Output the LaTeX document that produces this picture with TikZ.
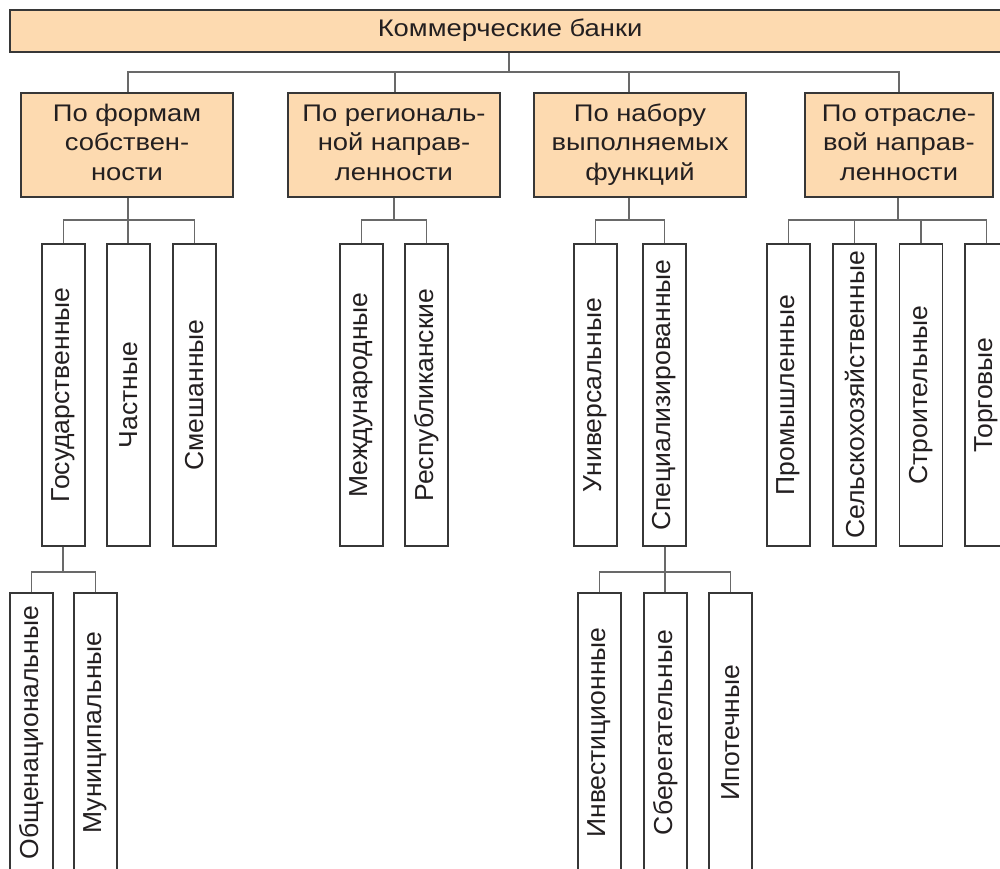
\documentclass[tikz,border=0pt]{standalone}
\usepackage{fontspec}
\setmainfont{Liberation Sans}
\definecolor{peach}{RGB}{253,218,176}
\definecolor{boxline}{RGB}{55,55,55}
\definecolor{connc}{RGB}{105,105,105}
\definecolor{txt}{RGB}{35,31,32}
\tikzset{
  topbox/.style={draw=boxline, fill=peach, line width=1.3pt, minimum width=1000pt, minimum height=42pt, inner sep=0pt, font=\fontsize{24}{29}\selectfont, text=txt},
  catbox/.style={draw=boxline, fill=peach, line width=1.3pt, minimum width=212pt, minimum height=104pt, inner sep=0pt, font=\fontsize{24}{29.5}\selectfont, text=txt},
  leafbox/.style={draw=boxline, fill=white, line width=1.3pt, minimum width=43pt, minimum height=302pt, inner sep=0pt, font=\fontsize{26}{30}\selectfont, text=txt},
  subbox/.style={leafbox, minimum height=279pt},
  conn/.style={draw=connc, line width=1.3pt}
}
\newcommand{\vtxt}[1]{\rotatebox{90}{\scalebox{1.02}[1]{#1}}}
\newcommand{\wtxt}[1]{\scalebox{1.14}[1]{\begin{tabular}{@{}c@{}}#1\end{tabular}}}
\begin{document}
\begin{tikzpicture}[x=1pt,y=-1pt]
\useasboundingbox (0,0) rectangle (1000,868);
\clip (0,0) rectangle (1000,868);
% top
\node[topbox] (top) at (510,31) {\wtxt{Коммерческие банки}};
% categories
\node[catbox] (c1) at (127,145) {\wtxt{По формам\\собствен-\\ности}};
\node[catbox] (c2) at (394,145) {\wtxt{По региональ-\\ной направ-\\ленности}};
\node[catbox] (c3) at (640,145) {\wtxt{По набору\\выполняемых\\функций}};
\node[catbox, minimum width=188pt] (c4) at (899,145) {\wtxt{По отрасле-\\вой направ-\\ленности}};
% leaves
\node[leafbox] (l11) at (63.5,395) {\vtxt{Государственные}};
\node[leafbox] (l12) at (128.5,395) {\vtxt{Частные}};
\node[leafbox] (l13) at (194.5,395) {\vtxt{Смешанные}};
\node[leafbox] (l21) at (361.5,395) {\vtxt{Международные}};
\node[leafbox] (l22) at (426.5,395) {\vtxt{Республиканские}};
\node[leafbox] (l31) at (595.5,395) {\vtxt{Универсальные}};
\node[leafbox] (l32) at (664.5,395) {\vtxt{Специализированные}};
\node[leafbox] (l41) at (788.5,395) {\vtxt{Промышленные}};
\node[leafbox] (l42) at (854.5,395) {\vtxt{Сельскохозяйственные}};
\node[leafbox] (l43) at (921,395) {\vtxt{Строительные}};
\node[leafbox] (l44) at (986.5,395) {\vtxt{Торговые}};
% sub leaves
\node[subbox] (s11) at (31.5,732.5) {\vtxt{Общенациональные}};
\node[subbox] (s12) at (95.5,732.5) {\vtxt{Муниципальные}};
\node[subbox] (s31) at (599.5,732.5) {\vtxt{Инвестиционные}};
\node[subbox] (s32) at (665.5,732.5) {\vtxt{Сберегательные}};
\node[subbox] (s33) at (730.5,732.5) {\vtxt{Ипотечные}};
% junctions
\coordinate (j0) at (509,72);
\coordinate (d1) at (128,72);
\coordinate (d2) at (395,72);
\coordinate (d3) at (629,72);
\coordinate (d4) at (899,72);
\coordinate (g1) at (128,220);
\coordinate (g2) at (394,220);
\coordinate (g3) at (629,220);
\coordinate (g4) at (898,220);
\coordinate (h1) at (63,572);
\coordinate (h3) at (665,572);
% connectors level 1
\draw[conn] (top.south -| j0) -- (j0);
\draw[conn] (c1.north -| d1) -- (d1) -- (d4) -- (c4.north -| d4);
\draw[conn] (c2.north -| d2) -- (d2);
\draw[conn] (c3.north -| d3) -- (d3);
% group 1
\draw[conn] (c1.south -| g1) -- (l12.north -| g1);
\draw[conn] (l11.north) |- (g1);
\draw[conn] (l13.north) |- (g1);
% group 2
\draw[conn] (c2.south -| g2) -- (g2);
\draw[conn] (l21.north) |- (g2);
\draw[conn] (l22.north) |- (g2);
% group 3
\draw[conn] (c3.south -| g3) -- (g3);
\draw[conn] (l31.north) |- (g3);
\draw[conn] (l32.north) |- (g3);
% group 4
\draw[conn] (c4.south -| g4) -- (g4);
\draw[conn] (l41.north) |- (g4);
\draw[conn] (l42.north) |- (g4);
\draw[conn] (l43.north) |- (g4);
\draw[conn] (l44.north) |- (g4);
% sub groups
\draw[conn] (l11.south -| h1) -- (h1);
\draw[conn] (s11.north) |- (h1);
\draw[conn] (s12.north) |- (h1);
\draw[conn] (l32.south -| h3) -- (s32.north -| h3);
\draw[conn] (s31.north) |- (h3);
\draw[conn] (s33.north) |- (h3);
\end{tikzpicture}
\end{document}
